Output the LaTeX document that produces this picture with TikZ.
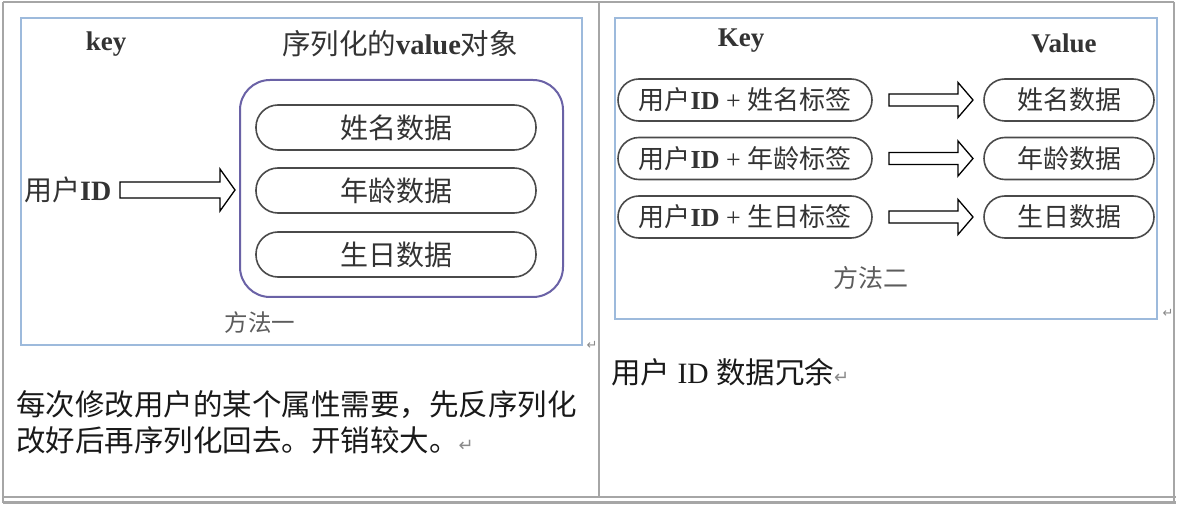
\documentclass[tikz,border=0pt]{standalone}
\usepackage{fontspec}
\setmainfont{Liberation Serif}
\newfontfamily\cjk{Noto Sans CJK SC}
\newfontfamily\sym{DejaVu Sans}
\definecolor{tablegray}{HTML}{A6A6A6}
\definecolor{framblue}{HTML}{9DBADC}
\definecolor{boxpurple}{HTML}{6A62A6}
\definecolor{pillgray}{HTML}{4A4A4A}
\definecolor{txt}{HTML}{333333}
\definecolor{marker}{HTML}{8A8A8A}
\tikzset{
  frame/.style={draw=framblue, line width=2pt},
  pill/.style={draw=pillgray, line width=1.6pt, fill=white, rectangle, rounded corners=21pt, inner sep=0pt, text=txt},
  lpill/.style={pill, minimum width=280pt, minimum height=45pt, rounded corners=22pt, font=\cjk\fontsize{28}{28}\selectfont},
  kpill/.style={pill, minimum width=254pt, minimum height=42pt, font=\fontsize{26}{26}\selectfont},
  vpill/.style={pill, minimum width=170pt, minimum height=42pt, font=\cjk\fontsize{26}{26}\selectfont},
  blockarrow/.style={draw=black, line width=1.3pt, fill=white, line join=miter},
  head/.style={text=txt, inner sep=0pt, font=\bfseries\fontsize{27}{27}\selectfont},
  caption/.style={text=txt!80, inner sep=0pt, font=\cjk\fontsize{23.5}{23.5}\selectfont},
  para/.style={text=black!90, inner sep=0pt, anchor=west, font=\fontsize{29.5}{29.5}\selectfont},
  retmark/.style={text=marker, inner sep=0pt, font=\sym\fontsize{13}{13}\selectfont}
}
\begin{document}
\begin{tikzpicture}[x=1pt,y=-1pt]
\useasboundingbox (0,0) rectangle (1179,505);
\fill[white] (0,0) rectangle (1179,505);
% table lines
\draw[tablegray, line width=2pt] (3,2) -- (1174,2);
\draw[tablegray, line width=2pt] (3,2) -- (3,503);
\draw[tablegray, line width=2pt] (1174,2) -- (1174,503);
\draw[tablegray, line width=1.5pt] (599,2) -- (599,497);
\draw[tablegray, line width=1.5pt] (3,497) -- (1176,497);
\draw[tablegray, line width=3pt] (3,502.5) -- (1176,502.5);

% ---------- left panel ----------
\draw[frame] (21,18) rectangle (582,345);
\node[head] (lkey) at (106,44) {key};
\node[head, font=\bfseries\fontsize{28.5}{28.5}\selectfont] (lval) at (400,44) {{\cjk\mdseries 序列化的}value{\cjk\mdseries 对象}};
\draw[draw=boxpurple, line width=2pt, rounded corners=30pt] (240,80) rectangle (563,297);
\node[lpill] (p1) at (396,127.5) {姓名数据};
\node[lpill] (p2) at (396,190.5) {年龄数据};
\node[lpill] (p3) at (396,254.5) {生日数据};
\node[text=txt, inner sep=0pt, anchor=west, font=\bfseries\fontsize{28}{28}\selectfont] (uid) at (24,190) {{\cjk\mdseries 用户}ID};
\draw[blockarrow] (120,182) -- (220,182) -- (220,169) -- (235,190) -- (220,211) -- (220,198) -- (120,198) -- cycle;
\node[caption] (m1) at (260,323) {方法一};
\node[retmark] (r1) at (592,345) {↵};

% ---------- right panel ----------
\draw[frame] (615,18) rectangle (1157,319);
\node[head] (rkey) at (741,41) {Key};
\node[head] (rval) at (1064,43) {Value};
\foreach \y/\lab/\val [count=\i] in {100/姓名标签/姓名数据, 158.5/年龄标签/年龄数据, 217/生日标签/生日数据}{
  \node[kpill] (k\i) at (745,\y) {{\cjk 用户}\textbf{ID} + {\cjk \lab}};
  \node[vpill] (v\i) at (1069,\y) {\val};
  \draw[blockarrow] (889,\y-6) -- (958,\y-6) -- (958,\y-17.5) -- (973,\y) -- (958,\y+17.5) -- (958,\y+6) -- (889,\y+6) -- cycle;
}
\node[caption, font=\cjk\fontsize{25}{25}\selectfont] (m2) at (871,278) {方法二};
\node[retmark] (r2) at (1168,313) {↵};

% ---------- text row ----------
\node[para] (t1) at (16,405) {{\cjk 每次修改用户的某个属性需要，先反序列化}};
\node[para] (t2) at (16,440) {{\cjk 改好后再序列化回去。开销较大。}{\sym\color{marker}\fontsize{18}{18}\selectfont ↵}};
\node[para] (t3) at (611,372) {{\cjk 用户} ID {\cjk 数据冗余}{\sym\color{marker}\fontsize{18}{18}\selectfont ↵}};
\end{tikzpicture}
\end{document}
